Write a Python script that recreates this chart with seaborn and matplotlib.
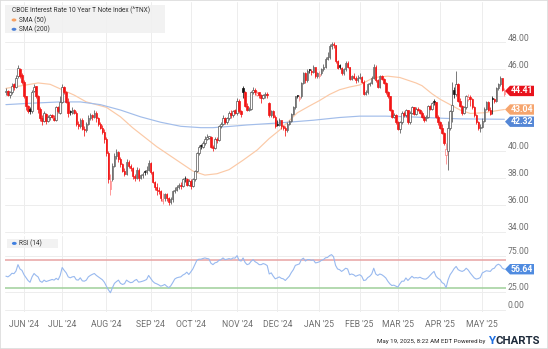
import numpy as np
import pandas as pd
import matplotlib
matplotlib.use("Agg")
import matplotlib.pyplot as plt
import seaborn as sns
from matplotlib.patches import Rectangle, Polygon, Circle
from matplotlib.transforms import ScaledTranslation, blended_transform_factory

# ---------------- data ----------------
opens = [44.3, 44.4, 44.1, 44.3, 44.9, 44.7, 45.5, 46.0, 45.6,
         45.1, 44.0, 43.3, 43.1, 42.9, 44.4, 44.8, 44.0, 43.1, 42.4, 42.2, 42.7, 42.2, 42.5, 42.6, 42.4, 42.3, 43.2, 42.8,
         43.6, 44.7, 44.3, 43.6, 42.9, 42.8, 43.0, 42.8, 42.0, 41.8, 42.3, 41.6, 41.5, 42.0, 42.4, 42.6, 42.5, 42.8, 42.4, 42.0, 41.7, 41.4,
         40.9, 39.8, 37.2, 37.9, 38.9, 39.6, 39.9, 39.4, 39.0, 38.5, 38.3, 39.2, 38.9, 38.7, 38.1, 38.0, 38.6, 38.0, 38.2, 38.5, 38.4, 38.6,
         39.1, 38.4, 37.7, 37.3, 37.1, 37.0, 36.3, 36.5, 36.8, 36.5, 36.2, 36.4, 37.0, 37.1, 37.3, 37.5, 37.4, 38.0, 37.9, 37.5,
         37.8, 37.4, 37.9, 38.5, 39.8, 40.4, 40.3, 40.6, 40.9, 40.95, 41.0, 40.3, 40.2, 40.9, 40.8, 41.8, 42.0, 42.4, 42.1, 42.4, 42.8, 42.6, 43.0,
         42.8, 43.7, 42.9, 44.6, 44.3, 43.3, 43.0, 43.1, 44.3, 44.5, 44.1, 44.3, 44.1, 43.9, 44.1, 44.2, 43.5, 42.6, 42.9, 42.5,
         42.0, 41.9, 42.3, 41.8, 41.7, 41.5, 42.0, 42.2, 42.7, 43.2, 44.1, 43.8, 44.0, 45.0, 45.7, 45.2, 46.0, 45.9, 45.8, 46.2, 45.5,
         45.5, 45.7, 46.0, 46.2, 46.8, 46.9, 47.7, 47.9, 47.8, 46.6, 46.3, 46.1, 45.7, 46.0, 46.5, 46.2, 45.3, 45.5, 45.4, 45.2,
         45.4, 45.45, 45.1, 44.2, 44.3, 44.9, 45.0, 45.4, 46.2, 45.2, 44.7, 45.5, 45.3, 45.0, 44.3, 44.0, 43.0, 42.5, 42.6,
         42.1, 41.6, 42.1, 42.8, 42.6, 43.0, 42.1, 42.8, 43.2, 42.7, 43.1, 43.0, 42.8, 42.5, 42.4, 42.5, 43.3, 43.1, 43.7, 43.6, 42.5,
         42.1, 41.7, 41.3, 39.7, 40.0, 41.7, 42.9, 44.5, 44.2, 44.9, 43.7, 43.3, 42.8, 43.2, 43.8, 43.95, 43.8, 43.2, 42.6, 42.1, 41.7,
         41.75, 42.2, 43.1, 43.6, 43.0, 43.9, 43.8, 43.7, 44.6, 44.9, 45.4, 44.2]
highs = [44.6, 44.5, 44.4, 45.0, 45.0, 45.6, 46.3, 46.1, 45.7,
         45.2, 44.0, 43.4, 43.2, 44.5, 44.9, 44.8, 44.1, 43.2, 42.6, 42.9, 42.8, 42.6, 42.7, 42.7, 42.6, 43.3, 43.3, 44.0,
         44.9, 44.8, 44.4, 43.9, 43.0, 43.2, 43.1, 42.9, 42.2, 42.4, 42.4, 41.8, 42.1, 42.6, 42.8, 42.7, 43.0, 42.9, 42.5, 42.1, 41.9, 41.6,
         41.0, 40.0, 38.3, 39.1, 39.8, 40.1, 40.0, 39.5, 39.1, 38.7, 39.4, 39.3, 39.0, 38.8, 38.3, 38.8, 38.7, 38.3, 38.4, 38.6, 38.9, 39.3,
         39.2, 38.5, 37.8, 37.6, 37.3, 37.1, 36.9, 36.9, 36.9, 36.6, 36.6, 37.1, 37.3, 37.5, 37.6, 37.7, 38.0, 38.1, 38.0, 37.9,
         37.9, 38.0, 38.6, 39.9, 40.4, 40.5, 40.7, 41.1, 41.2, 41.1, 41.1, 40.4, 41.0, 41.0, 41.9, 42.1, 42.6, 42.5, 42.5, 42.9, 43.0, 43.0, 43.1,
         43.9, 43.8, 43.0, 44.8, 44.4, 43.5, 43.2, 44.4, 44.7, 44.6, 44.4, 44.3, 44.2, 44.2, 44.3, 44.3, 43.6, 43.0, 43.0, 42.6,
         42.3, 42.4, 42.3, 41.9, 41.8, 42.1, 42.3, 42.8, 43.3, 44.0, 44.1, 44.1, 45.1, 45.8, 45.8, 46.0, 46.0, 46.0, 46.3, 46.2, 45.8,
         45.9, 46.1, 46.4, 46.9, 47.3, 47.9, 48.0, 48.0, 47.8, 46.7, 46.4, 46.2, 46.1, 46.6, 46.6, 46.2, 45.6, 45.7, 45.5, 45.6,
         45.7, 45.5, 45.2, 44.5, 45.0, 45.1, 45.5, 46.4, 46.3, 45.3, 45.6, 45.6, 45.4, 45.1, 44.4, 44.0, 43.1, 42.8, 42.7,
         42.2, 42.2, 42.9, 42.9, 43.1, 43.0, 42.9, 43.3, 43.2, 43.2, 43.2, 43.1, 42.9, 42.6, 42.6, 43.4, 43.4, 43.6, 43.8, 43.6, 42.6,
         42.2, 42.0, 41.4, 40.6, 42.2, 43.0, 45.1, 44.7, 45.9, 45.0, 43.9, 43.4, 43.3, 44.1, 44.2, 44.1, 43.9, 43.3, 42.7, 42.2, 42.0,
         42.4, 43.2, 43.7, 43.7, 43.2, 44.0, 43.9, 44.7, 45.0, 45.5, 45.4, 44.6]
lows = [44.1, 44.0, 43.9, 44.2, 44.5, 44.6, 45.4, 45.4, 44.9,
        43.9, 43.0, 42.8, 42.7, 42.8, 44.3, 43.9, 42.8, 42.2, 41.9, 42.1, 42.0, 42.1, 42.3, 42.4, 42.2, 42.2, 42.8, 42.7,
        43.5, 44.2, 43.5, 42.5, 42.6, 42.7, 42.7, 41.8, 41.6, 41.7, 41.5, 41.1, 41.4, 41.9, 42.3, 42.3, 42.4, 42.1, 41.8, 41.6, 41.2, 40.6,
        39.6, 37.6, 36.7, 37.8, 38.8, 39.4, 39.2, 38.8, 38.4, 38.1, 38.2, 38.7, 38.5, 37.9, 37.8, 37.9, 37.8, 37.9, 38.0, 38.2, 38.3, 38.5,
        38.3, 37.6, 37.1, 36.7, 36.8, 36.3, 36.1, 36.3, 36.3, 36.0, 36.1, 36.2, 36.9, 37.0, 37.2, 37.2, 37.3, 37.7, 37.4, 37.4,
        37.2, 37.3, 37.8, 38.4, 39.7, 40.1, 40.2, 40.4, 40.8, 40.9, 40.2, 40.0, 40.1, 40.6, 40.7, 41.7, 41.9, 42.0, 42.0, 42.3, 42.4, 42.5, 42.7,
        42.6, 42.8, 42.5, 43.9, 43.2, 42.9, 42.9, 43.0, 44.2, 44.1, 44.0, 43.9, 43.5, 43.8, 43.9, 43.9, 42.5, 42.5, 42.4, 41.7,
        41.8, 41.8, 41.6, 41.5, 41.1, 41.4, 41.9, 42.1, 42.6, 43.1, 43.9, 43.7, 43.9, 44.9, 45.0, 45.1, 45.7, 45.6, 45.7, 45.4, 45.4,
        45.4, 45.6, 45.9, 46.1, 46.7, 46.8, 47.5, 47.6, 46.5, 46.0, 46.0, 45.6, 45.6, 45.9, 46.1, 45.2, 45.2, 45.3, 45.0, 45.1,
        45.3, 45.0, 44.1, 44.1, 44.2, 44.8, 44.9, 45.3, 45.1, 44.6, 44.6, 45.2, 44.9, 44.2, 43.9, 42.9, 42.4, 42.4, 42.0,
        41.5, 41.3, 42.0, 42.5, 42.5, 42.0, 42.0, 42.7, 42.6, 42.6, 42.9, 42.7, 42.4, 42.1, 42.2, 42.4, 43.0, 43.0, 43.4, 42.4, 41.9,
        41.6, 41.2, 40.4, 39.0, 38.6, 41.5, 42.1, 43.9, 44.0, 43.6, 43.2, 42.6, 42.7, 43.1, 43.7, 43.3, 43.1, 42.5, 42.0, 41.5, 41.4,
        41.7, 42.1, 43.0, 42.9, 42.6, 42.7, 43.5, 43.6, 44.5, 44.8, 44.4, 44.0]
closes = [44.4, 44.1, 44.3, 44.8, 44.7, 45.4, 46.1, 45.5, 45.1,
          44.0, 43.3, 42.9, 42.95, 44.3, 44.7, 44.0, 43.1, 42.4, 42.2, 42.8, 42.2, 42.5, 42.6, 42.5, 42.3, 43.2, 42.9, 43.6,
          44.7, 44.3, 43.6, 42.8, 42.85, 43.0, 42.8, 42.0, 41.8, 42.3, 41.6, 41.5, 42.0, 42.4, 42.6, 42.5, 42.8, 42.4, 42.0, 41.7, 41.4, 40.9,
          39.8, 37.9, 37.8, 38.9, 39.6, 39.9, 39.4, 39.0, 38.5, 38.3, 39.2, 38.9, 38.7, 38.1, 38.0, 38.6, 38.0, 38.2, 38.3, 38.4, 38.6, 39.1,
          38.4, 37.7, 37.3, 37.1, 37.0, 36.5, 36.45, 36.8, 36.5, 36.2, 36.4, 37.0, 37.1, 37.3, 37.5, 37.4, 37.9, 37.95, 37.5, 37.8,
          37.4, 37.9, 38.5, 39.8, 40.3, 40.35, 40.6, 40.9, 41.0, 41.05, 40.3, 40.2, 40.9, 40.8, 41.8, 42.0, 42.4, 42.1, 42.4, 42.8, 42.6, 42.9, 42.8,
          43.7, 42.9, 42.7, 44.3, 43.3, 43.0, 43.1, 44.3, 44.5, 44.3, 44.25, 44.1, 43.9, 44.1, 44.2, 44.1, 42.6, 42.9, 42.5, 41.8,
          41.9, 42.3, 41.8, 41.7, 41.5, 42.0, 42.2, 42.7, 43.2, 44.0, 44.05, 43.98, 45.0, 45.7, 45.2, 45.9, 45.95, 45.8, 46.2, 45.5, 45.7,
          45.65, 46.0, 46.2, 46.8, 46.9, 47.7, 47.9, 47.8, 46.6, 46.1, 46.15, 45.7, 46.0, 46.5, 46.2, 45.3, 45.5, 45.4, 45.2, 45.4,
          45.45, 45.1, 44.2, 44.3, 44.9, 45.0, 45.4, 46.2, 45.2, 44.7, 45.5, 45.3, 45.0, 44.3, 44.0, 43.0, 42.5, 42.6, 42.1,
          41.6, 42.1, 42.8, 42.6, 43.0, 42.1, 42.8, 43.2, 42.7, 43.1, 43.0, 42.8, 42.5, 42.3, 42.5, 43.3, 43.1, 43.5, 43.6, 42.5, 42.1,
          41.7, 41.3, 40.6, 40.1, 41.7, 42.9, 43.4, 44.2, 44.9, 43.7, 43.3, 42.8, 43.2, 44.0, 43.95, 43.8, 43.2, 42.6, 42.1, 41.7, 41.75,
          42.2, 43.1, 43.6, 43.0, 42.7, 43.8, 43.7, 44.6, 44.9, 45.4, 44.5, 44.41]

sma50_idx = [0, 8, 16, 22, 28, 34, 40, 50, 57, 63, 69, 75, 82, 87, 93, 99, 105, 111, 118, 125, 131, 136, 145,
             151, 156, 161, 166, 171, 176, 183, 190, 196, 204, 207, 212, 216, 221, 226, 231, 238, 244, 248]
sma50_val = [44.6, 44.8, 45.0, 44.9, 44.5, 44.1, 43.6, 43.2, 42.5, 41.7, 41.0, 40.3, 39.6, 39.1, 38.5, 38.2, 38.3,
             38.6, 39.3, 40.05, 40.9, 41.5, 42.8, 43.3, 43.7, 44.15, 44.5, 44.7, 44.85, 45.4, 45.5, 45.4, 45.0, 44.8,
             44.2, 43.8, 43.4, 43.0, 42.75, 42.8, 42.95, 43.04]
sma200_idx = [0, 12, 27, 37, 47, 57, 67, 77, 87, 97, 103, 112, 120, 136, 153, 166, 176, 189, 201, 216, 226, 248]
sma200_val = [43.4, 43.5, 43.6, 43.6, 43.4, 43.0, 42.5, 42.1, 41.8, 41.7, 41.7, 41.8, 41.9, 42.05, 42.25, 42.45,
              42.55, 42.55, 42.5, 42.4, 42.35, 42.32]

rsi_vals = [47, 46, 48, 51, 50.5, 54, 63, 57, 55, 49,
            45, 41, 38.5, 46, 50.7, 48, 46, 40, 38.5, 41.5,
            39.5, 40.5, 41.5, 42.4, 41.5, 44, 42, 48, 59, 55,
            51.6, 46, 44.7, 46, 46.5, 42, 41.5, 44.7, 40.5, 40,
            41.5, 46, 48, 49.5, 50.7, 48, 46, 44, 42, 38.5,
            33, 28, 24, 31, 37, 39.5, 41.5, 37, 35.5, 36.5,
            41.5, 39.5, 38, 38.5, 41, 42.4, 38.7, 39.2, 40, 41,
            42.4, 48, 44, 40, 37.5, 36.4, 35, 33.2, 34, 35.5,
            33, 31, 33.5, 38, 43, 44.7, 45.5, 46, 48.5, 50,
            52.5, 49.3, 53, 57, 63, 69, 70.5, 70.5, 71.5, 72.3,
            71.5, 71, 65, 63, 65.5, 66.3, 69, 70, 72.3, 70,
            70.5, 71.4, 70.5, 72.3, 72, 75.5, 69, 68, 72.3, 66,
            63, 64, 67.7, 70, 67, 65.4, 63, 63, 64.5, 63.5,
            61.7, 50, 51.6, 47, 43.3, 44.5, 46, 44, 43.3, 41,
            44, 47, 52, 56, 62, 63, 64, 70, 72, 68,
            70, 70, 69, 69.5, 65.4, 66, 67, 69, 70, 72.5,
            73, 75.5, 76.9, 74, 62, 57, 56, 53.6, 55.5, 58,
            57, 49, 50, 49, 46.8, 48, 49, 47, 41, 41.5,
            45, 46.8, 50, 58, 50, 48, 50, 49, 47, 44.5,
            40, 36.4, 34, 34.5, 33.2, 31.8, 36.4, 40, 40, 44.5,
            41, 44, 46.8, 44.5, 45, 44.5, 45.5, 44, 43, 43,
            45, 48, 51, 53.6, 46.8, 44, 42.3, 38, 36.4, 31,
            42, 49, 53, 57.5, 60.5, 56, 54.5, 53.6, 55, 58,
            55.5, 51.4, 48, 44.5, 43, 43.6, 45, 51.4, 53, 54.5,
            54, 53.6, 57, 58, 62, 63.6, 62, 58, 56.64]

month_labels = ["JUN '24", "JUL '24", "AUG '24", "SEP '24", "OCT '24", "NOV '24", "DEC '24",
                "JAN '25", "FEB '25", "MAR '25", "APR '25", "MAY '25"]
price_ticks = [34, 36, 38, 40, 42, 44, 46, 48]
price_tick_labels_shown = [34, 36, 38, 40, 46, 48]   # 42 and 44 are covered by the value tags
rsi_ticks = [0, 25, 75]
rsi_levels = [70, 30]
last_labels = ["44.41", "43.04", "42.32"]
rsi_last = "56.64"
holidays = ["2024-05-27", "2024-06-19", "2024-07-04", "2024-09-02", "2024-11-28", "2024-12-25",
            "2025-01-01", "2025-01-09", "2025-01-20", "2025-02-17", "2025-04-18"]

# ---------------- layout ----------------
W, H = 548, 349
sns.set_theme(style="white")
plt.rcParams["font.family"] = ["Roboto", "DejaVu Sans"]
fig = plt.figure(figsize=(W / 100, H / 100), dpi=100)
fig.patch.set_facecolor("white")

def fx(x):
    return x / W

def fy(y):
    return 1 - y / H

L, R = 5, 506
ax = fig.add_axes([fx(L), fy(234), (R - L) / W, (234 - 2) / H])
ax2 = fig.add_axes([fx(L), fy(312), (R - L) / W, (312 - 236) / H])

n = len(closes)
dates = pd.bdate_range("2024-05-20", "2025-05-16")
dates = dates[~dates.isin(pd.to_datetime(holidays))][:n]
idx = np.arange(n)
o = np.array(opens); h = np.array(highs); l = np.array(lows); c = np.array(closes)

xmin = 9 + (L - 24) / 2.01
xmax = 9 + (R - 24) / 2.01
for a in (ax, ax2):
    a.set_xlim(xmin, xmax)
    for s in a.spines.values():
        s.set_visible(False)
    a.set_facecolor("none")

ax.set_ylim(40 - (234 - 150.7) / 13.55, 40 + (150.7 - 2) / 13.55)
ax2.set_ylim(75 - (312 - 256) / 0.72, 75 + (256 - 236) / 0.72)

# month positions (first trading day of each month)
ser = pd.Series(idx, index=dates)
month_pos = [int(ser[ser.index.to_period("M") == p].iloc[0]) for p in pd.period_range("2024-06", "2025-05", freq="M")]

grid_c = "#ededed"
for a in (ax, ax2):
    for m in month_pos:
        a.axvline(m, color=grid_c, lw=0.7, zorder=0)
for t in price_ticks:
    ax.axhline(t, color=grid_c, lw=0.7, zorder=0)
for t in rsi_ticks:
    ax2.axhline(t, color=grid_c, lw=0.7, zorder=0)

# SMA lines
sns.lineplot(x=sma50_idx, y=sma50_val, ax=ax, color="#fbc9a6", lw=0.85, zorder=2)
sns.lineplot(x=sma200_idx, y=sma200_val, ax=ax, color="#a2bdea", lw=0.85, zorder=2)

# candles
prev = np.r_[o[0], c[:-1]]
up_day = c >= prev
hollow = c > o
face, edge = [], []
for u, hol in zip(up_day, hollow):
    if u and hol:
        face.append("white"); edge.append("#555555")
    elif u and not hol:
        face.append("#111111"); edge.append("#111111")
    elif (not u) and (not hol):
        face.append("#f21515"); edge.append("#f21515")
    else:
        face.append("white"); edge.append("#ff7d7d")
ax.vlines(idx, l, h, colors=edge, lw=0.55, zorder=3)
body_lo = np.minimum(o, c)
body_h = np.maximum(np.abs(c - o), 0.07)
ax.bar(idx, body_h, bottom=body_lo, width=0.72, color=face, edgecolor=edge, linewidth=0.5, zorder=4)

# RSI
sns.lineplot(x=idx, y=rsi_vals, ax=ax2, color="#98b9ef", lw=0.8, zorder=3)
ax2.axhline(rsi_levels[0], color="#e8a3a3", lw=1.1, zorder=2)
ax2.axhline(rsi_levels[1], color="#9fcf9a", lw=1.1, zorder=2)

# ticks
ax.set_xticks([]); ax.set_yticks([])
ax2.set_yticks([])
ax2.set_xticks(month_pos)
ax2.set_xticklabels(month_labels)
ax2.tick_params(axis="x", length=0, pad=5.5, labelsize=6.2, labelcolor="#6f6f6f")
ax.set_xlabel(""); ax.set_ylabel(""); ax2.set_xlabel(""); ax2.set_ylabel("")

up4 = ScaledTranslation(0, 4 / 100, fig.dpi_scale_trans)
for a, ticks in ((ax, price_tick_labels_shown), (ax2, rsi_ticks)):
    tr = blended_transform_factory(a.transAxes, a.transData) + up4
    for t in ticks:
        a.text(1.0 + 2 / (R - L), t, f"{t:.2f}", transform=tr, ha="left", va="center",
               fontsize=6.2, color="#6f6f6f")

# value tags on the right
def tag(ypx, text, color):
    x0, x1, x2 = 505, 510, 534
    hh = 5.2
    pts = [(fx(x0), fy(ypx)), (fx(x1), fy(ypx - hh)), (fx(x2), fy(ypx - hh)),
           (fx(x2), fy(ypx + hh)), (fx(x1), fy(ypx + hh))]
    fig.add_artist(Polygon(pts, closed=True, transform=fig.transFigure, facecolor=color,
                           edgecolor="none", zorder=10))
    fig.text(fx(522), fy(ypx), text, ha="center", va="center", fontsize=6.3, color="white",
             fontweight="bold", zorder=11)

def price_px(v):
    return 150.7 - (v - 40) * 13.55

tag(price_px(float(last_labels[0])), last_labels[0], "#e8121c")
tag(price_px(float(last_labels[1])), last_labels[1], "#f6a56e")
tag(price_px(float(last_labels[1])) + 12.2, last_labels[2], "#5587d6")
tag(256 + (75 - float(rsi_last)) * 0.72, rsi_last, "#4f8be0")

# legend boxes
fig.add_artist(Rectangle((fx(5), fy(33)), fx(160), 28 / H, transform=fig.transFigure,
                         facecolor="#f1f1f1", edgecolor="none", alpha=0.9, zorder=8))
fig.text(fx(11.5), fy(10.5), "CBOE Interest Rate 10 Year T Note Index (^TNX)", fontsize=4.7,
         color="#333333", va="center", ha="left", zorder=9)
for ypx, lab, col in ((20, "SMA (50)", "#f7a062"), (29.3, "SMA (200)", "#4a80d8")):
    fig.add_artist(Circle((fx(14), fy(ypx)), 2.4 / W, transform=fig.transFigure,
                          facecolor=col, edgecolor="none", zorder=9))
    fig.text(fx(19.3), fy(ypx), lab, fontsize=4.7, color="#333333", va="center", ha="left", zorder=9)

fig.add_artist(Rectangle((fx(6.5), fy(248)), fx(51.5), 9 / H, transform=fig.transFigure,
                         facecolor="#f1f1f1", edgecolor="none", alpha=0.9, zorder=8))
fig.add_artist(Circle((fx(14.3), fy(243.4)), 2.4 / W, transform=fig.transFigure,
                      facecolor="#3f7fe0", edgecolor="none", zorder=9))
fig.text(fx(19), fy(243.4), "RSI (14)", fontsize=4.7, color="#333333", va="center", ha="left", zorder=9)

# footer
fig.text(fx(485), fy(341), "May 19, 2025, 8:22 AM EDT Powered by", fontsize=4.4, color="#222222",
         ha="right", va="center")
fig.text(fx(488), fy(341), "Y", fontsize=8.2, color="#1f6fe0", ha="left", va="center", fontweight="bold")
fig.text(fx(496), fy(341), "CHARTS", fontsize=8.2, color="#1d2a3a", ha="left", va="center", fontweight="bold")

fig.add_artist(Rectangle((0, 0), 1, 1, transform=fig.transFigure, fill=False,
                         edgecolor="#dcdcdc", lw=1.2, zorder=20))

fig.savefig("out.png", dpi=100, facecolor="white")
